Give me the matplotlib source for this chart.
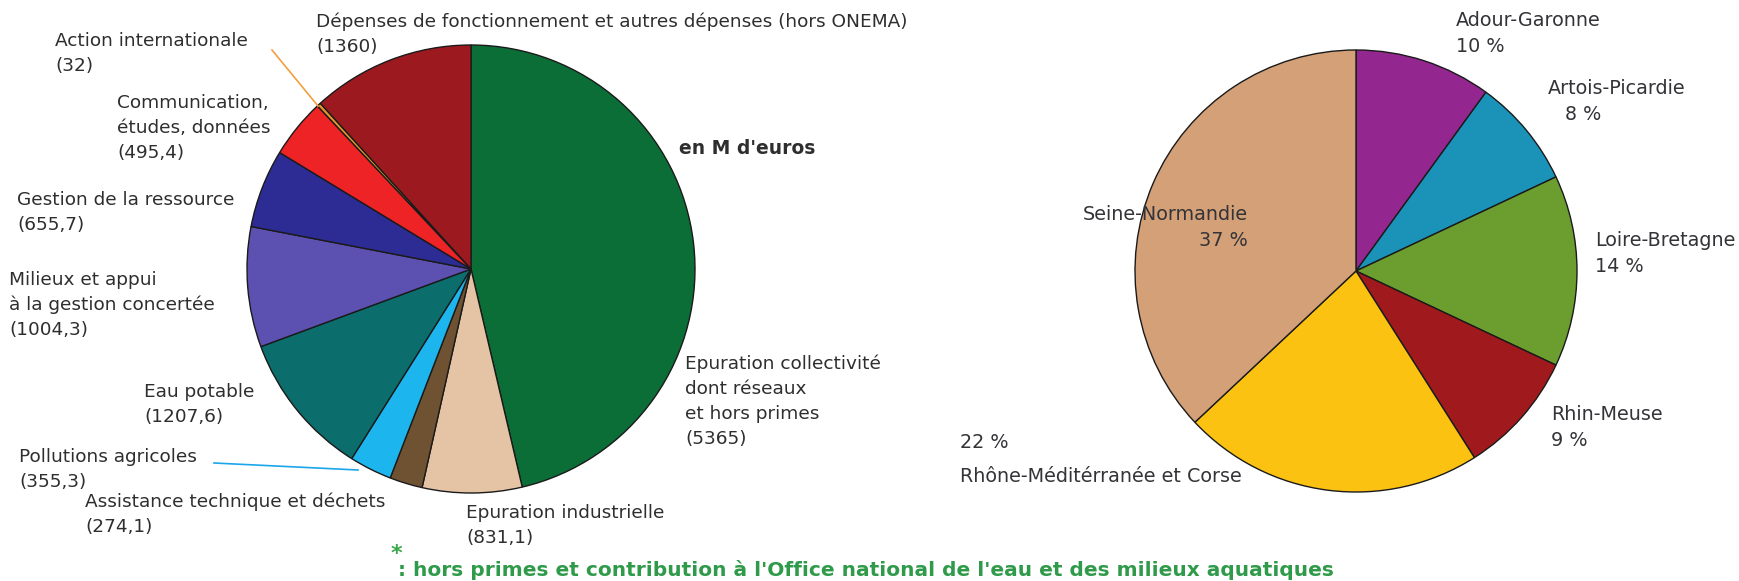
import matplotlib
matplotlib.use("Agg")
import matplotlib.pyplot as plt

# Dépenses des agences de l'eau, en M d'euros
left_labels = [
    "Epuration collectivité\ndont réseaux\net hors primes",
    "Epuration industrielle",
    "Assistance technique et déchets",
    "Pollutions agricoles",
    "Eau potable",
    "Milieux et appui\nà la gestion concertée",
    "Gestion de la ressource",
    "Communication,\nétudes, données",
    "Action internationale",
    "Dépenses de fonctionnement et autres dépenses (hors ONEMA)",
]
left_values = [5365, 831.1, 274.1, 355.3, 1207.6, 1004.3, 655.7, 495.4, 32, 1360]
left_colors = ["#0b6e37", "#e5c4a6", "#6f5232", "#1cb5ee", "#0b6d6c",
               "#5c50b0", "#2d2c95", "#ee2326", "#e8962c", "#9c1a1f"]

# Répartition par bassin
right_labels = ["Adour-Garonne", "Artois-Picardie", "Loire-Bretagne", "Rhin-Meuse",
                "Rhône-Méditérranée et Corse", "Seine-Normandie"]
right_pcts = [10, 8, 14, 9, 22, 37]
right_colors = ["#93278f", "#1b92b8", "#6b9e2f", "#a01a1d", "#fcc212", "#d4a077"]

W, H = 1740, 581
fig = plt.figure(figsize=(W / 100, H / 100), dpi=100)
ax = fig.add_axes([0, 0, 1, 1])


def P(x, y):
    """Pixel-style coordinates (origin top-left) to data coordinates."""
    return x, H - y


wedge = dict(edgecolor="#1a1a1a", linewidth=1.0)
ax.pie(left_values, colors=left_colors, startangle=90, counterclock=False,
       center=P(471, 269), radius=224, wedgeprops=wedge, frame=True)
ax.pie(right_pcts, colors=right_colors, startangle=90, counterclock=False,
       center=P(1356, 271), radius=221, wedgeprops=wedge, frame=True)

ax.set_xlim(0, W)
ax.set_ylim(0, H)
ax.set_aspect("equal")
ax.axis("off")

TXT = "#2e2e2e"
LFONT = "DejaVu Sans"
RFONT = "DejaVu Sans"
LSIZE = 13.3
RSIZE = 13.8
DY = 25


def fmt_val(v):
    return "(" + f"{v:g}".replace(".", ",") + ")"


# label anchor (left x, centre y of first line) for each left slice
left_pos = [(685, 364), (466, 513), (85, 502), (19, 457), (144, 392),
            (9, 280), (17, 200), (117, 103), (55, 41), (316, 22)]
for lab, val, (x, y) in zip(left_labels, left_values, left_pos):
    lines = lab.split("\n") + [fmt_val(val)]
    for i, line in enumerate(lines):
        ax.text(*P(x, y + i * DY), line, ha="left", va="center",
                fontsize=LSIZE, family=LFONT, color=TXT)

# leader lines for the thin slices
ax.plot(*zip(P(272, 50), P(318, 106)), color="#f0a040", lw=1.2)
ax.plot(*zip(P(214, 463), P(358, 470)), color="#1aa6e8", lw=1.2)

ax.text(*P(679, 148), "en M d'euros", ha="left", va="center",
        fontsize=13.5, family=LFONT, color=TXT, fontweight="bold")

# right pie labels: (x, y of first line, alignment)
right_pos = [(1456, 20, "left"), (1548, 89, "left"), (1595, 241, "left"),
             (1551, 414, "left"), (960, 443, "left"), (1248, 214, "right")]
for lab, pct, (x, y, ha) in zip(right_labels, right_pcts, right_pos):
    if lab.startswith("Rhône"):
        lines = [f"{pct} %", lab]
        ys = [y, y + 34]
    else:
        lines = [lab, f"{pct} %"]
        ys = [y, y + 26]
    for line, yy in zip(lines, ys):
        xx = x
        if lab.startswith("Artois") and line.endswith("%"):
            xx = x + 17
        ax.text(*P(xx, yy), line, ha=ha, va="center",
                fontsize=RSIZE, family=RFONT, color="#333338")

GREEN = "#2f9a4a"
ax.text(*P(391, 554), "*", ha="left", va="center", fontsize=16,
        family=LFONT, color="#3aa84a", fontweight="bold")
ax.text(*P(398, 570),
        ": hors primes et contribution à l'Office national de l'eau et des milieux aquatiques",
        ha="left", va="center", fontsize=14.5, family=LFONT, color=GREEN,
        fontweight="bold")

fig.savefig("out.png", dpi=100, facecolor="white")
